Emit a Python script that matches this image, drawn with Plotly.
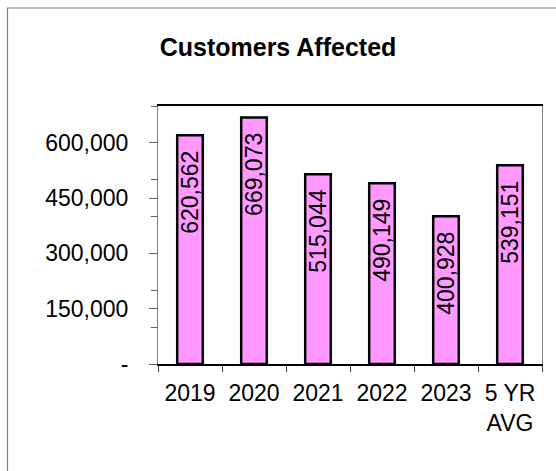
import plotly.graph_objects as go

categories = ["2019", "2020", "2021", "2022", "2023", "5 YR<br>AVG"]
values = [620562, 669073, 515044, 490149, 400928, 539151]
tick_vals = [0, 150000, 300000, 450000, 600000]
tick_text = ["-", "150,000", "300,000", "450,000", "600,000"]

FONT = "Arial, Liberation Sans, sans-serif"

fig = go.Figure()
fig.add_trace(go.Bar(
    x=categories, y=values,
    marker=dict(color="#FF99FF", line=dict(color="black", width=2.5)),
    hoverinfo="x+y",
))

# category serial numbers for label placement
for i, v in enumerate(values):
    fig.add_annotation(
        x=i, y=v, xref="x", yref="y",
        text=f"{v:,}", textangle=-90, showarrow=False,
        yanchor="top", xanchor="center", yshift=-14,
        font=dict(family=FONT, size=23, color="black"),
    )

W, H = 556, 471
L, R, T, B = 158, 14, 106, 107
pw, ph = W - L - R, H - T - B

# outer chart frame
fig.add_shape(type="rect", xref="paper", yref="paper",
              x0=(7.5 - L) / pw, x1=(W + 5 - L) / pw,
              y0=-(H + 5 - (H - B)) / ph, y1=((H - B) - 8) / ph,
              line=dict(color="#808080", width=1.2), fillcolor="rgba(0,0,0,0)",
              layer="below")

fig.update_layout(
    width=W, height=H,
    margin=dict(l=L, r=R, t=T, b=B, pad=0),
    paper_bgcolor="white", plot_bgcolor="white",
    bargap=0.6,
    showlegend=False,
    font=dict(family=FONT, size=23, color="black"),
    title=dict(text="<b>Customers Affected</b>", x=0.5, xref="container", xanchor="center",
               y=1 - 47 / H, yref="container", yanchor="middle",
               font=dict(family=FONT, size=25, color="black")),
    xaxis=dict(
        type="category", categoryorder="array", categoryarray=categories,
        range=[-0.5, len(categories) - 0.5],
        showline=True, linecolor="black", linewidth=1.5,
        mirror=True, ticks="outside", tickson="boundaries", ticklen=6,
        tickcolor="#404040", tickwidth=1, showgrid=False, tickangle=0,
        tickfont=dict(family=FONT, size=23, color="black"),
        ticklabelstandoff=8,
    ),
    yaxis=dict(
        range=[0, 700000], tickvals=tick_vals, ticktext=tick_text,
        showline=True, linecolor="#808080", linewidth=1, mirror=True,
        ticks="outside", ticklen=8, tickcolor="#606060", tickwidth=1,
        showgrid=False, zeroline=False,
        minor=dict(dtick=100000, tick0=0, ticks="outside", ticklen=6,
                   tickcolor="#606060", showgrid=False),
        tickfont=dict(family=FONT, size=23, color="black"),
        ticklabelstandoff=16,
    ),
)

fig.write_html("out.html")
